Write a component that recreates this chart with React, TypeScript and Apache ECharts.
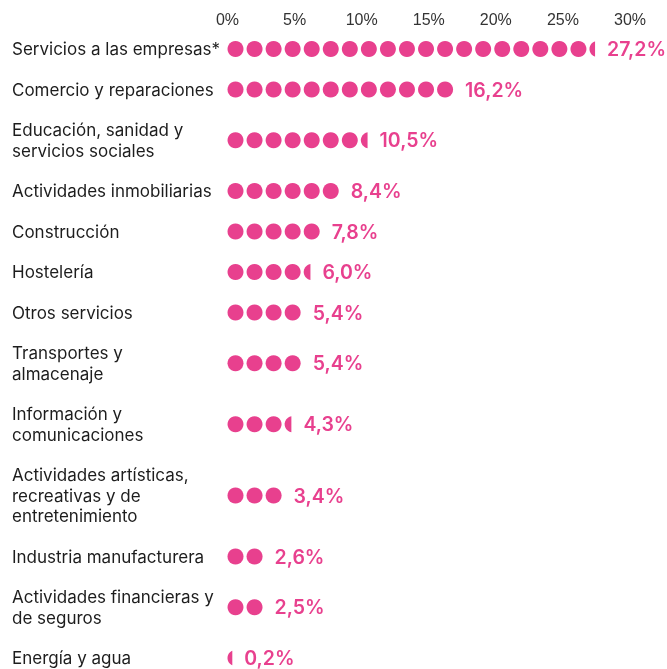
import { useEffect, useRef } from 'react';
import * as echarts from 'echarts';

const CATEGORIES = [
  'Servicios a las empresas*',
  'Comercio y reparaciones',
  'Educación, sanidad y\nservicios sociales',
  'Actividades inmobiliarias',
  'Construcción',
  'Hostelería',
  'Otros servicios',
  'Transportes y\nalmacenaje',
  'Información y\ncomunicaciones',
  'Actividades artísticas,\nrecreativas y de\nentretenimiento',
  'Industria manufacturera',
  'Actividades financieras y\nde seguros',
  'Energía y agua',
];
const VALUES = [27.2, 16.2, 10.5, 8.4, 7.8, 6.0, 5.4, 5.4, 4.3, 3.4, 2.6, 2.5, 0.2];
// number of dots drawn per row (fraction = clipped last dot)
const DOTS = [19.35, 12, 7.42, 6, 5, 4.42, 4, 4, 3.42, 3, 2, 2, 0.3];
const X_MIN = 0;
const X_MAX = 30;
const X_STEP = 5;

const PINK = '#E8408E';
const TEXT = '#1d1d1d';
const DOT_PCT = 1.42; // axis length of one dot step
const ROW_H = 40.5;
const LINE_H = 20.5;
const CHART_W = 667;
const CHART_H = 669;
const GRID_TOP = 28.75;

function fmt(v: number) {
  return v.toFixed(1).replace('.', ',') + '%';
}

export default function App() {
  const ref = useRef<HTMLDivElement>(null);
  useEffect(() => {
    const chart = echarts.init(ref.current!, null, { renderer: 'svg' });
    const lines = CATEGORIES.map((c) => c.split('\n').length);
    const heights = lines.map((n) => ROW_H + LINE_H * (n - 1));
    let acc = 0;
    const centers = heights.map((h) => {
      const c = acc + h / 2;
      acc += h;
      return c;
    });
    const yMax = CHART_H - GRID_TOP; // 1 axis unit = 1 px
    const data = VALUES.map((v, i) => [v, centers[i], DOTS[i]]);

    chart.setOption({
      animation: false,
      grid: { left: 227.5, width: 402.5, top: GRID_TOP, bottom: 0 },
      xAxis: {
        type: 'value',
        position: 'top',
        min: X_MIN,
        max: X_MAX,
        interval: X_STEP,
        axisLabel: {
          formatter: '{value}%',
          color: '#333',
          fontSize: 16,
          fontFamily: 'Liberation Sans',
          verticalAlign: 'middle',
          margin: 9,
        },
        axisLine: { show: false },
        axisTick: { show: false },
        splitLine: { show: false },
      },
      yAxis: { type: 'value', inverse: true, min: 0, max: yMax, show: false },
      series: [
        {
          type: 'custom',
          clip: false,
          data,
          encode: { x: 0, y: 1 },
          renderItem: (params: any, api: any) => {
            const i = params.dataIndex;
            const v = api.value(0);
            const yv = api.value(1);
            const n = api.value(2);
            const origin = api.coord([0, yv]);
            const step = api.size([DOT_PCT, 0])[0];
            const d = step * 0.84;
            const r = d / 2;
            const cy = origin[1];
            const full = Math.floor(n + 1e-6);
            const frac = n - full;
            const children: any[] = [];
            for (let k = 0; k < full; k++) {
              children.push({
                type: 'circle',
                shape: { cx: origin[0] + k * step + r, cy, r },
                style: { fill: PINK },
              });
            }
            let endX = origin[0] + (full - 1) * step + d;
            if (frac > 0.01) {
              const cx = origin[0] + full * step + r;
              const cut = cx - r + frac * d;
              const t0 = Math.acos(Math.max(-1, Math.min(1, (cut - cx) / r)));
              const pts: number[][] = [];
              const N = 24;
              for (let s = 0; s <= N; s++) {
                const t = t0 + ((2 * Math.PI - 2 * t0) * s) / N;
                pts.push([cx + r * Math.cos(t), cy + r * Math.sin(t)]);
              }
              children.push({ type: 'polygon', shape: { points: pts }, style: { fill: PINK } });
              endX = cut;
            }
            children.push({
              type: 'text',
              x: endX + 12,
              y: cy,
              style: {
                text: fmt(v),
                fill: PINK,
                fontSize: 19.5,
                fontWeight: 600,
                fontFamily: 'Inter',
                align: 'left',
                verticalAlign: 'middle',
              },
            });
            children.push({
              type: 'text',
              x: 12,
              y: cy,
              style: {
                text: CATEGORIES[i],
                fill: TEXT,
                fontSize: 17,
                lineHeight: LINE_H,
                fontFamily: 'Inter',
                align: 'left',
                verticalAlign: 'middle',
              },
            });
            return { type: 'group', children };
          },
        },
      ],
    });
    return () => chart.dispose();
  }, []);
  return (
    <div
      ref={ref}
      style={{ position: 'fixed', left: 0, top: 0, width: CHART_W, height: CHART_H }}
    />
  );
}
